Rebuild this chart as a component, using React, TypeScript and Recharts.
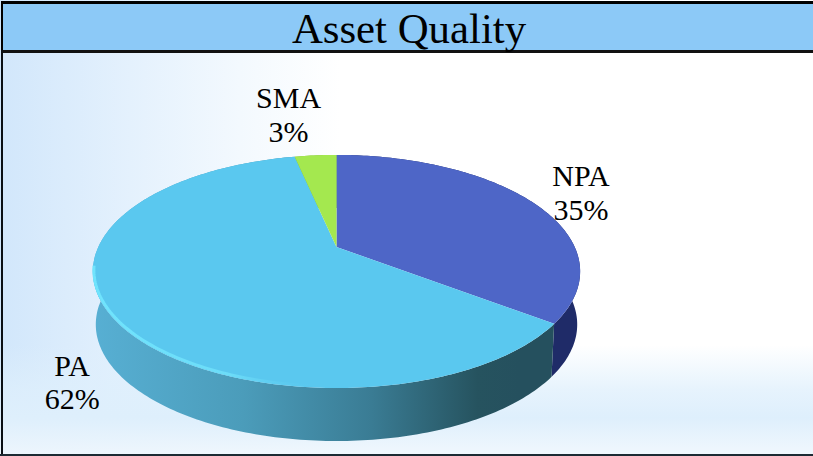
import React from "react";
import { PieChart, Pie } from "recharts";

const categories = ["NPA", "PA", "SMA"];
const shareValues = [35.4, 61.5, 3.4];
const faceColors = ["#4e66c7", "#5ac8ef", "#a4e84f"];
const wallColors = ["#1f2b68", "url(#paWall)", "#7fb83a"];
const labelOffsets = [
  [49.5, -15.5],
  [-38, 61],
  [-27, -47],
];

const data = categories.map((name, i) => ({ name, value: shareValues[i], fill: faceColors[i], index: i }));

const TITLE = "Asset Quality";
const FONT = '"Liberation Serif", "Times New Roman", serif';
const CX = 336.5;
const CY = 247;
const BX = 238.2;
const BY = 111.4;
const K = 0.21;
const DEPTH = 53;
const BOTTOM_SCALE = 0.988;

const rim = (deg: number, cx: number, cy: number): [number, number] => {
  const a = (deg * Math.PI) / 180;
  const den = 1 + K * Math.sin(a);
  return [cx + (BX * Math.cos(a)) / den, cy - (BY * Math.sin(a)) / den];
};

const sample = (start: number, end: number) => {
  const n = Math.max(2, Math.ceil(Math.abs(end - start)));
  return Array.from({ length: n + 1 }, (_, i) => start + ((end - start) * i) / n);
};

const pathOf = (pts: [number, number][]) =>
  pts.map((p, i) => `${i ? "L" : "M"}${p[0].toFixed(2)},${p[1].toFixed(2)}`).join(" ");

const FaceShape = (props: any) => {
  const { startAngle, endAngle, cx, cy, fill, name } = props;
  const arc = sample(startAngle, endAngle).map((d) => rim(d, cx, cy));
  const d = `M${cx},${cy} ${pathOf(arc).replace("M", "L")} Z`;
  const highlight = name === "PA" ? pathOf(sample(-170, -85).map((x) => {
    const p = rim(x, cx, cy);
    return [p[0] + 1, p[1] - 1.5] as [number, number];
  })) : null;
  return (
    <g>
      <path d={d} fill={fill} stroke="none" />
      {highlight && <path d={highlight} fill="none" stroke="url(#paRim)" strokeWidth={3} />}
    </g>
  );
};

const WallShape = (props: any) => {
  const { startAngle, endAngle, cx, cy, index } = props;
  const angles = sample(startAngle, endAngle);
  const top = angles.map((d) => rim(d, cx, cy));
  const bottom = top
    .map((p) => [cx + (p[0] - cx) * BOTTOM_SCALE, p[1] + DEPTH] as [number, number])
    .reverse();
  return <path d={`${pathOf(top)} ${pathOf(bottom).replace("M", "L")} Z`} fill={wallColors[index]} stroke="none" />;
};

const renderLabel = (props: any) => {
  const { midAngle, cx, cy, index } = props;
  const p = rim(midAngle, cx, cy);
  const x = p[0] + labelOffsets[index][0];
  const y = p[1] + labelOffsets[index][1];
  return (
    <text x={x} y={y} textAnchor="middle" fontFamily={FONT} fontSize={30} fill="#000">
      <tspan x={x}>{categories[index]}</tspan>
      <tspan x={x} dy={33.5}>{`${Math.round(shareValues[index])}%`}</tspan>
    </text>
  );
};

export default function App() {
  return (
    <div
      style={{
        position: "absolute",
        left: 0,
        top: 0,
        width: 813,
        height: 456,
        overflow: "hidden",
        background:
          "linear-gradient(to bottom, rgba(222,239,252,0) 345px, rgba(222,239,252,0.75) 390px, rgba(222,239,252,1) 418px, rgba(240,247,253,0.9) 456px), linear-gradient(to right, #d2e7fb 3px, #e4f1fd 130px, #f3f9fe 240px, #ffffff 340px)",
      }}
    >
      <div
        style={{
          position: "absolute",
          left: 1,
          top: 1,
          width: 812,
          height: 46,
          boxSizing: "content-box",
          background: "#8cc9f7",
          borderTop: "3px solid #000",
          borderBottom: "3px solid #111",
          borderLeft: "2px solid #000",
          fontFamily: FONT,
          fontSize: 42.8,
          lineHeight: "50px",
          color: "#000",
          whiteSpace: "nowrap",
        }}
      >
        <span style={{ position: "absolute", left: 0, width: 812, top: 0, textAlign: "center" }}>{TITLE}</span>
      </div>
      <div style={{ position: "absolute", left: 1, top: 50, width: 2, height: 406, background: "#0a0f14" }} />
      <div style={{ position: "absolute", left: 0, top: 454, width: 813, height: 2, background: "#1c2a33" }} />
      <div style={{ position: "absolute", left: 0, top: 0 }}>
        <PieChart width={813} height={456} margin={{ top: 0, right: 0, bottom: 0, left: 0 }}>
          <defs>
            <linearGradient id="paWall" gradientUnits="userSpaceOnUse" x1="95" y1="0" x2="520" y2="0">
              <stop offset="0" stopColor="#57afd3" />
              <stop offset="0.35" stopColor="#4b9cba" />
              <stop offset="0.65" stopColor="#3a7c94" />
              <stop offset="0.9" stopColor="#26535f" />
              <stop offset="1" stopColor="#25505e" />
            </linearGradient>
            <linearGradient id="paRim" gradientUnits="userSpaceOnUse" x1="95" y1="0" x2="320" y2="0">
              <stop offset="0" stopColor="#70e4fd" />
              <stop offset="0.6" stopColor="#6cdcf8" />
              <stop offset="1" stopColor="#5ac8ef" stopOpacity="0" />
            </linearGradient>
          </defs>
          <Pie
            data={data}
            dataKey="value"
            nameKey="name"
            cx={CX}
            cy={CY}
            outerRadius={100}
            startAngle={90}
            endAngle={-270}
            stroke="none"
            isAnimationActive={false}
            shape={WallShape}
            labelLine={false}
            label={false}
          />
          <Pie
            data={data}
            dataKey="value"
            nameKey="name"
            cx={CX}
            cy={CY}
            outerRadius={100}
            startAngle={90}
            endAngle={-270}
            stroke="none"
            isAnimationActive={false}
            shape={FaceShape}
            labelLine={false}
            label={renderLabel}
          />
        </PieChart>
      </div>
    </div>
  );
}
